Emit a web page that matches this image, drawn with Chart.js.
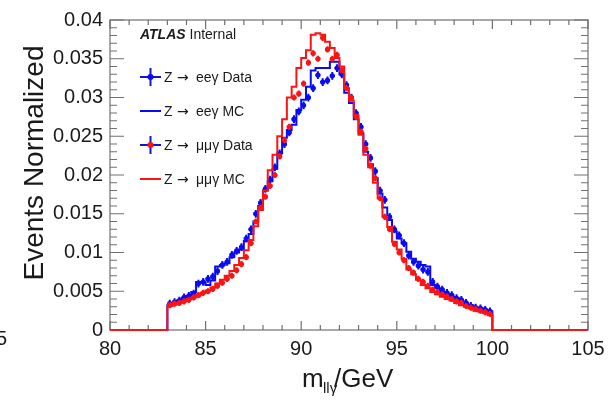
<!DOCTYPE html>
<html>
<head>
<meta charset="utf-8">
<script src="https://cdn.jsdelivr.net/npm/chart.js@4.4.1/dist/chart.umd.min.js"></script>
<style>
html, body { margin: 0; padding: 0; background: #fff; }
</style>
</head>
<body>
<canvas id="mllgChart" width="615" height="403"></canvas>
<script>
// histogram binning: 83 -> 100 GeV, 0.25 GeV bins
var binStart = 83.0, binWidth = 0.25;

var eeData = [
  0.0034, 0.0036, 0.0038, 0.0042, 0.0044, 0.0047, 0.0060, 0.0062, 0.0066, 0.0069,
  0.0076, 0.0084, 0.0088, 0.0097, 0.0102, 0.0107, 0.0118, 0.0130, 0.0150, 0.0164,
  0.0182, 0.0194, 0.0210, 0.0228, 0.0240, 0.0255, 0.0272, 0.0282, 0.0290, 0.0300,
  0.0312, 0.0329, 0.0320, 0.0322, 0.0328, 0.0338, 0.0330, 0.0316, 0.0300, 0.0280,
  0.0262, 0.0240, 0.0222, 0.0205, 0.0180, 0.0168, 0.0146, 0.0130, 0.0122, 0.0112,
  0.0096, 0.0088, 0.0083, 0.0078, 0.0075, 0.0062, 0.0056, 0.0052, 0.0048, 0.0045,
  0.0041, 0.0039, 0.0035, 0.0031, 0.0029, 0.0028, 0.0026, 0.0024
];
var eeMC = [
  0.0032, 0.0034, 0.0038, 0.0041, 0.0044, 0.0049, 0.0062, 0.0062, 0.0058, 0.0064,
  0.0082, 0.0084, 0.0086, 0.0094, 0.0100, 0.0104, 0.0115, 0.0124, 0.0140, 0.0160,
  0.0180, 0.0192, 0.0208, 0.0228, 0.0248, 0.0258, 0.0265, 0.0284, 0.0297, 0.0314,
  0.0335, 0.0338, 0.0338, 0.0338, 0.0346, 0.0346, 0.0330, 0.0306, 0.0293, 0.0272,
  0.0254, 0.0230, 0.0214, 0.0196, 0.0176, 0.0158, 0.0142, 0.0127, 0.0118, 0.0112,
  0.0101, 0.0092, 0.0088, 0.0084, 0.0082, 0.0058, 0.0054, 0.0049, 0.0046, 0.0043,
  0.0041, 0.0037, 0.0034, 0.0032, 0.0029, 0.0028, 0.0026, 0.0024
];
var mmData = [
  0.0032, 0.0034, 0.0035, 0.0037, 0.0039, 0.0042, 0.0045, 0.0048, 0.0050, 0.0053,
  0.0057, 0.0061, 0.0066, 0.0070, 0.0077, 0.0085, 0.0094, 0.0112, 0.0140, 0.0158,
  0.0172, 0.0186, 0.0200, 0.0224, 0.0245, 0.0262, 0.0300, 0.0305, 0.0318, 0.0345,
  0.0357, 0.0350, 0.0377, 0.0362, 0.0350, 0.0355, 0.0335, 0.0312, 0.0300, 0.0275,
  0.0256, 0.0234, 0.0212, 0.0196, 0.0170, 0.0146, 0.0130, 0.0111, 0.0100, 0.0090,
  0.0080, 0.0074, 0.0066, 0.0062, 0.0057, 0.0052, 0.0049, 0.0046, 0.0043, 0.0040,
  0.0037, 0.0035, 0.0031, 0.0029, 0.0027, 0.0025, 0.0023, 0.0021
];
var mmMC = [
  0.0031, 0.0033, 0.0035, 0.0037, 0.0040, 0.0042, 0.0045, 0.0048, 0.0051, 0.0055,
  0.0060, 0.0065, 0.0070, 0.0076, 0.0084, 0.0093, 0.0103, 0.0116, 0.0134, 0.0155,
  0.0180, 0.0206, 0.0226, 0.0250, 0.0272, 0.0300, 0.0314, 0.0338, 0.0351, 0.0361,
  0.0381, 0.0383, 0.0381, 0.0372, 0.0364, 0.0351, 0.0340, 0.0312, 0.0296, 0.0277,
  0.0252, 0.0226, 0.0210, 0.0190, 0.0170, 0.0146, 0.0133, 0.0114, 0.0104, 0.0092,
  0.0078, 0.0072, 0.0065, 0.0058, 0.0054, 0.0049, 0.0046, 0.0043, 0.0040, 0.0038,
  0.0035, 0.0032, 0.0030, 0.0028, 0.0025, 0.0024, 0.0022, 0.0019
];
var eeErr = 0.0005, mmErr = 0.0004;

var xTicks = [80, 85, 90, 95, 100, 105];
var yTicks = ['0', '0.005', '0.01', '0.015', '0.02', '0.025', '0.03', '0.035', '0.04'];
// legend text split around the arrow: [before, after]
var labels = [['Z', 'ee\u03b3 Data'], ['Z', 'ee\u03b3 MC'], ['Z', '\u03bc\u03bc\u03b3 Data'], ['Z', '\u03bc\u03bc\u03b3 MC']];

var BLUE = 'rgb(10,10,245)', RED = 'rgb(250,20,20)';
var FONT = '"Liberation Sans", Arial, sans-serif';

function histPoints(vals) {
  // step line at bin low edges, zero outside the range
  var pts = [{x: 80, y: 0}];
  for (var i = 0; i < vals.length; i++) pts.push({x: binStart + i * binWidth, y: vals[i]});
  var end = binStart + vals.length * binWidth;
  pts.push({x: end, y: 0});
  pts.push({x: 105, y: 0});
  return pts;
}
function dataPoints(vals) {
  var pts = [];
  for (var i = 0; i < vals.length; i++) pts.push({x: binStart + (i + 0.5) * binWidth, y: vals[i]});
  return pts;
}

// frame with inward ticks on all four sides
var frameTicks = {
  id: 'frameTicks',
  beforeDatasetsDraw: function(chart) {
    var ctx = chart.ctx, a = chart.chartArea;
    var xs = chart.scales.x, ys = chart.scales.y;
    ctx.save();
    ctx.strokeStyle = '#707070';
    ctx.lineWidth = 1.2;
    ctx.strokeRect(a.left, a.top, a.right - a.left, a.bottom - a.top);
    ctx.beginPath();
    for (var v = 80; v <= 105; v++) {
      var px = xs.getPixelForValue(v);
      var len = (v % 5 === 0) ? 9 : 5;
      ctx.moveTo(px, a.bottom); ctx.lineTo(px, a.bottom - len);
      ctx.moveTo(px, a.top); ctx.lineTo(px, a.top + len);
    }
    for (var k = 0; k <= 40; k++) {
      var py = ys.getPixelForValue(k / 1000);
      var l2 = (k % 5 === 0) ? 14 : 7;
      ctx.moveTo(a.left, py); ctx.lineTo(a.left + l2, py);
      ctx.moveTo(a.right, py); ctx.lineTo(a.right - l2, py);
    }
    ctx.stroke();
    ctx.restore();
  }
};

// vertical error bars under the data markers
var errorBars = {
  id: 'errorBars',
  beforeDatasetDraw: function(chart, args) {
    var ds = chart.data.datasets[args.index];
    if (ds.errY === undefined) return;
    var ctx = chart.ctx, xs = chart.scales.x, ys = chart.scales.y;
    ctx.save();
    ctx.strokeStyle = ds.barColor;
    ctx.lineWidth = 2;
    ctx.beginPath();
    ds.data.forEach(function(p) {
      var px = xs.getPixelForValue(p.x);
      ctx.moveTo(px, ys.getPixelForValue(p.y - ds.errY));
      ctx.lineTo(px, ys.getPixelForValue(p.y + ds.errY));
      ctx.moveTo(xs.getPixelForValue(p.x - binWidth / 2), ys.getPixelForValue(p.y));
      ctx.lineTo(xs.getPixelForValue(p.x + binWidth / 2), ys.getPixelForValue(p.y));
    });
    ctx.stroke();
    ctx.restore();
  }
};

// axis titles, ATLAS label and the ROOT-style legend
var textLayer = {
  id: 'textLayer',
  afterDraw: function(chart) {
    var ctx = chart.ctx;
    ctx.save();
    ctx.fillStyle = '#1a1a1a';
    ctx.textBaseline = 'alphabetic';

    // y title
    ctx.save();
    ctx.translate(43, 163);
    ctx.rotate(-Math.PI / 2);
    ctx.textAlign = 'center';
    ctx.font = '28px ' + FONT;
    ctx.fillText('Events Normalized', 0, 0);
    ctx.restore();

    // x title m_{ll gamma}/GeV
    ctx.textAlign = 'left';
    ctx.font = '26px ' + FONT;
    ctx.fillText('m', 302, 387);
    ctx.font = '15px ' + FONT;
    ctx.fillText('ll\u03b3', 323, 393);
    ctx.font = '26px ' + FONT;
    ctx.fillText('/GeV', 334, 387);

    // stray label from the neighbouring pad
    ctx.font = '20px ' + FONT;
    ctx.fillText('5', -4, 345);

    // ATLAS Internal
    ctx.font = 'italic bold 14px ' + FONT;
    ctx.fillText('ATLAS', 140, 39);
    var w = ctx.measureText('ATLAS ').width;
    ctx.font = '14px ' + FONT;
    ctx.fillText('Internal', 140 + w, 39);

    // legend
    var rows = [77, 111, 145, 179];
    ctx.lineWidth = 2;
    for (var i = 0; i < 4; i++) {
      var y = rows[i];
      if (i === 0 || i === 2) {
        ctx.strokeStyle = 'rgb(20,20,200)';
        ctx.beginPath();
        ctx.moveTo(140, y); ctx.lineTo(161, y);
        ctx.moveTo(150.5, y - 9); ctx.lineTo(150.5, y + 9);
        ctx.stroke();
        ctx.fillStyle = i === 0 ? BLUE : RED;
        ctx.beginPath();
        ctx.arc(150.5, y, 3, 0, Math.PI * 2);
        ctx.fill();
      } else {
        ctx.strokeStyle = i === 1 ? BLUE : RED;
        ctx.beginPath();
        ctx.moveTo(140, y); ctx.lineTo(161, y);
        ctx.stroke();
      }
      ctx.fillStyle = '#1a1a1a';
      ctx.textBaseline = 'middle';
      ctx.font = '14px ' + FONT;
      ctx.fillText(labels[i][0], 164, y + 1);
      ctx.font = '14px "DejaVu Sans", sans-serif';
      ctx.fillText('\u2192', 177, y + 1);
      ctx.font = '14px ' + FONT;
      ctx.fillText(labels[i][1], 196, y + 1);
    }
    ctx.restore();
  }
};

var chart = new Chart(document.getElementById('mllgChart').getContext('2d'), {
  type: 'scatter',
  data: {
    datasets: [
      {
        label: 'Z \u2192 \u03bc\u03bc\u03b3 MC', data: histPoints(mmMC), showLine: true, stepped: true,
        borderColor: RED, borderWidth: 2, pointRadius: 0, fill: false, order: 2, clip: 4
      },
      {
        label: 'Z \u2192 \u03bc\u03bc\u03b3 Data', data: dataPoints(mmData), showLine: false,
        pointRadius: 2.6, pointBackgroundColor: RED, pointBorderWidth: 0,
        errY: mmErr, barColor: RED, order: 1
      },
      {
        label: 'Z \u2192 ee\u03b3 MC', data: histPoints(eeMC), showLine: true, stepped: true,
        borderColor: BLUE, borderWidth: 2, pointRadius: 0, fill: false, order: 4, clip: 4
      },
      {
        label: 'Z \u2192 ee\u03b3 Data', data: dataPoints(eeData), showLine: false,
        pointRadius: 2.6, pointBackgroundColor: BLUE, pointBorderWidth: 0,
        errY: eeErr, barColor: BLUE, order: 3
      }
    ]
  },
  options: {
    responsive: false,
    animation: false,
    devicePixelRatio: 1,
    layout: { padding: { top: 20, right: 27, left: 0, bottom: 0 } },
    plugins: { legend: { display: false }, tooltip: { enabled: false } },
    scales: {
      x: {
        type: 'linear', min: 80, max: 105,
        border: { display: false },
        grid: { display: false, drawTicks: false },
        afterBuildTicks: function(scale) {
          scale.ticks = xTicks.map(function(v) { return {value: v}; });
        },
        afterFit: function(scale) { scale.height = 73; },
        ticks: {
          padding: 7, color: '#1a1a1a', maxRotation: 0, autoSkip: false,
          font: { size: 20, family: FONT },
          callback: function(v) { return String(v); }
        }
      },
      y: {
        type: 'linear', min: 0, max: 0.04,
        border: { display: false },
        grid: { display: false, drawTicks: false },
        afterBuildTicks: function(scale) {
          scale.ticks = yTicks.map(function(t) { return {value: parseFloat(t)}; });
        },
        afterFit: function(scale) { scale.width = 110; },
        ticks: {
          padding: 7, color: '#1a1a1a', autoSkip: false,
          font: { size: 20, family: FONT },
          callback: function(v, i) { return yTicks[i]; }
        }
      }
    }
  },
  plugins: [frameTicks, errorBars, textLayer]
});
</script>
</body>
</html>
